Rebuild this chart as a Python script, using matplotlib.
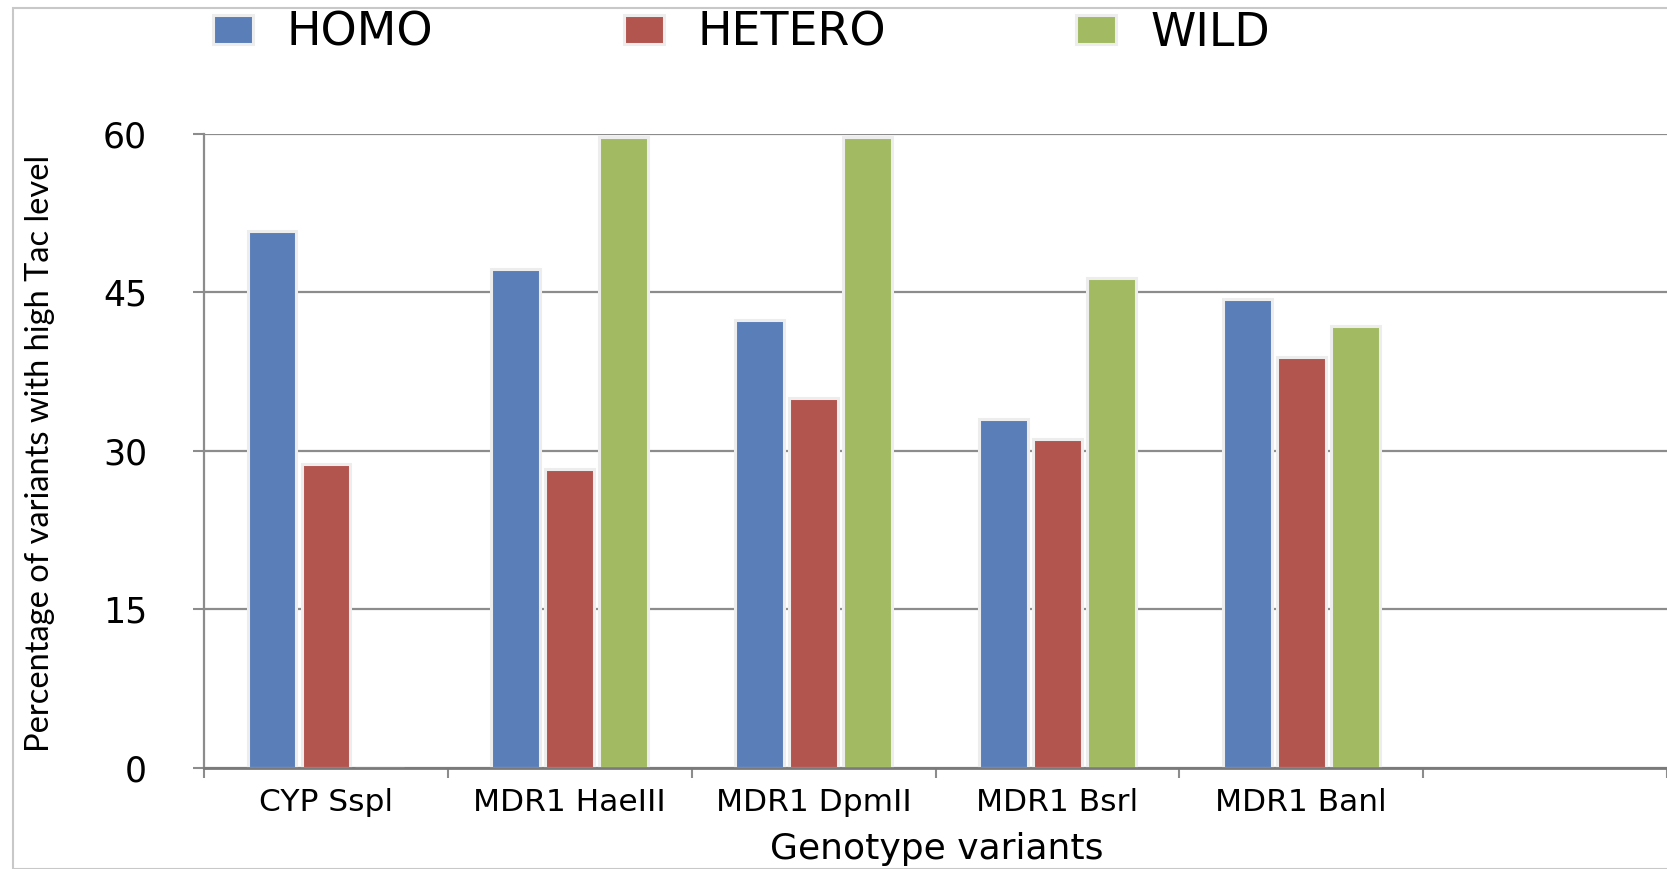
import numpy as np
import matplotlib
matplotlib.use("Agg")
import matplotlib.pyplot as plt
from matplotlib.patches import Rectangle

# data
categories = ["CYP Sspl", "MDR1 HaeIII", "MDR1 DpmII", "MDR1 Bsrl", "MDR1 Banl"]
homo = [50.8, 47.2, 42.4, 33.0, 44.4]
hetero = [28.7, 28.3, 35.0, 31.1, 38.9]
wild = [0.0, 59.7, 59.7, 46.4, 41.8]
series_names = ["HOMO", "HETERO", "WILD"]
colors = ["#5a7fb8", "#b3554f", "#a2bb63"]
yticks = [0, 15, 30, 45, 60]

W, H = 1667, 869
fig = plt.figure(figsize=(W / 100, H / 100), dpi=100)
fig.patch.set_facecolor("white")

# light outer frame of the chart area
fig.patches.append(Rectangle((13 / W, 0.5 / H), 1.2, 1 - 8.5 / H, transform=fig.transFigure,
                             fill=False, edgecolor="#c8c8c8", linewidth=1.5, zorder=0))

ax = fig.add_axes([204 / W, 1 - 767.5 / H, 1 - 204 / W, (767.5 - 134) / H])

x = np.arange(len(categories))
width = 0.2
step = 0.221
for i, (vals, name, c) in enumerate(zip([homo, hetero, wild], series_names, colors)):
    ax.bar(x + (i - 1) * step, vals, width, color=c, label=name,
           edgecolor="#ededed", linewidth=2.2, zorder=3)

ax.set_ylim(0, 60)
ax.set_xlim(-0.5, -0.5 + (W - 204) / 245)
ax.set_yticks(yticks)
ax.set_yticklabels([str(v) for v in yticks], fontsize=25, family="DejaVu Sans")
ax.tick_params(axis="y", length=8, width=1.5, color="#8c8c8c", pad=33)

ax.set_xticks(x)
ax.set_xticklabels(categories, fontsize=22.5, family="DejaVu Sans")
ax.set_xticks(np.arange(-0.5, 6.0, 1.0), minor=True)
ax.tick_params(axis="x", which="major", length=0, pad=15)
ax.tick_params(axis="x", which="minor", length=7, width=1.5, color="#8c8c8c")

ax.yaxis.grid(True, color="#8c8c8c", linewidth=1.6, zorder=0)
ax.set_axisbelow(True)
for s in ["top", "right"]:
    ax.spines[s].set_visible(False)
ax.spines["left"].set_color("#8c8c8c")
ax.spines["left"].set_linewidth(1.6)
ax.spines["bottom"].set_color("#7a7a7a")
ax.spines["bottom"].set_linewidth(2.0)
ax.spines["bottom"].set_zorder(4)

fig.text(40 / W, 1 - 453 / H, "Percentage of variants with high Tac level",
         rotation=90, ha="center", va="center", fontsize=23.5, family="Lato")
fig.text(937 / W, (H - 859) / H, "Genotype variants", ha="center", va="baseline",
         fontsize=26, family="DejaVu Sans")

handles, labels = ax.get_legend_handles_labels()
fig.legend(handles, labels, loc="upper left", bbox_to_anchor=(213 / W, 1 - 11 / H),
           ncol=3, frameon=False, fontsize=33, borderpad=0, borderaxespad=0,
           handlelength=0.87, handleheight=0.6, handletextpad=0.74, columnspacing=4.15)

fig.savefig("out.png", dpi=100, facecolor="white")
